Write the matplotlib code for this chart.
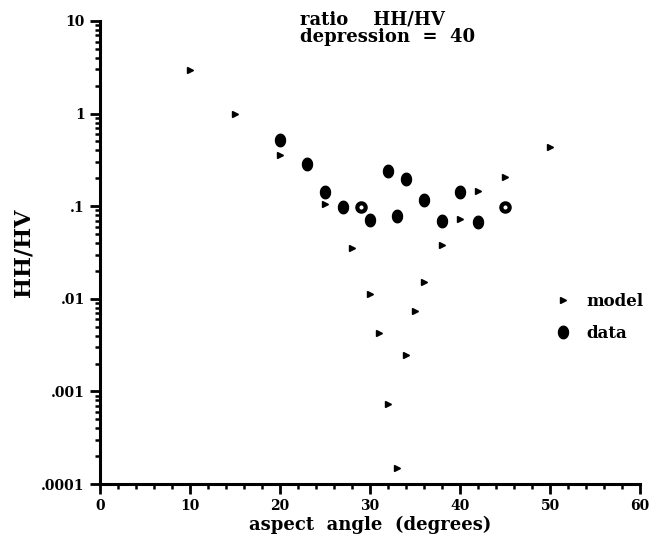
import numpy as np
import matplotlib
matplotlib.use("Agg")
import matplotlib.pyplot as plt
from matplotlib.ticker import FixedLocator, LogLocator, NullFormatter

# model curve: HH/HV ratio vs aspect angle
model_angle = [10, 15, 20, 25, 28, 30, 31, 32, 33, 34, 35, 36, 38, 40, 42, 45, 50]
model_ratio = [2.95, 1.0, 0.36, 0.106, 0.035, 0.0113, 0.0043, 0.00074, 0.00015,
               0.0025, 0.0074, 0.0151, 0.038, 0.073, 0.147, 0.208, 0.44]

# measured data (filled)
data_angle = [20, 23, 25, 27, 30, 32, 33, 34, 36, 38, 40, 42]
data_ratio = [0.52, 0.283, 0.144, 0.097, 0.071, 0.24, 0.078, 0.197, 0.117, 0.070, 0.144, 0.068]

# measured data drawn as open rings
ring_angle = [29, 45]
ring_ratio = [0.097, 0.099]

x_ticks = [0, 10, 20, 30, 40, 50, 60]
y_ticks = [1e-4, 1e-3, 1e-2, 1e-1, 1, 10]
y_tick_labels = [".0001", ".001", ".01", ".1", "1", "10"]

plt.rcParams["font.family"] = ["DejaVu Serif"]
plt.rcParams["font.weight"] = "bold"

W, H = 650, 552
fig = plt.figure(figsize=(W / 100, H / 100), dpi=100)
ax = fig.add_axes([100 / W, 1 - 484 / H, 540 / W, 463 / H])

# slightly tall oval marker like the scanned dots
t = np.linspace(0, 2 * np.pi, 40)
oval = np.column_stack([0.8 * np.cos(t), np.sin(t)])

ax.plot(model_angle, model_ratio, linestyle="none", marker=">", ms=5,
        color="black", label="model")
ax.plot(data_angle, data_ratio, linestyle="none", marker=oval, ms=9,
        color="black", label="data")
ax.plot(ring_angle, ring_ratio, linestyle="none", marker="o", ms=6,
        mfc="white", mec="black", mew=3.0)

ax.set_yscale("log")
ax.set_xlim(0, 60)
ax.set_ylim(1e-4, 10)

ax.xaxis.set_major_locator(FixedLocator(x_ticks))
ax.xaxis.set_minor_locator(FixedLocator(np.arange(0, 61, 2)))
ax.yaxis.set_major_locator(FixedLocator(y_ticks))
ax.set_yticklabels(y_tick_labels)
ax.yaxis.set_minor_locator(LogLocator(base=10, subs=np.arange(2, 10)))
ax.yaxis.set_minor_formatter(NullFormatter())

for side in ["top", "right"]:
    ax.spines[side].set_visible(False)
for side in ["left", "bottom"]:
    ax.spines[side].set_linewidth(2.2)

ax.tick_params(which="major", direction="out", length=7, width=2.0,
               labelsize=10, pad=4)
ax.tick_params(which="minor", direction="out", length=3.5, width=1.8)
for lab in ax.get_xticklabels() + ax.get_yticklabels():
    lab.set_fontweight("bold")

ax.set_xlabel("aspect  angle  (degrees)", fontsize=13, fontweight="bold", labelpad=2)
ax.set_ylabel("HH/HV", fontsize=16, fontweight="bold", labelpad=5)

fig.text(300 / W, 1 - 11 / H, "ratio    HH/HV\ndepression  =  40",
         ha="left", va="top", fontsize=13, fontweight="bold", linespacing=0.95)

leg = ax.legend(loc="upper left", bbox_to_anchor=(555 / W, 1 - 293 / H),
                bbox_transform=fig.transFigure, frameon=False,
                fontsize=12, handletextpad=0.9, labelspacing=0.9,
                handlelength=1.0, borderaxespad=0, borderpad=0)
for txt in leg.get_texts():
    txt.set_fontweight("bold")

fig.savefig("out.png", dpi=100)
